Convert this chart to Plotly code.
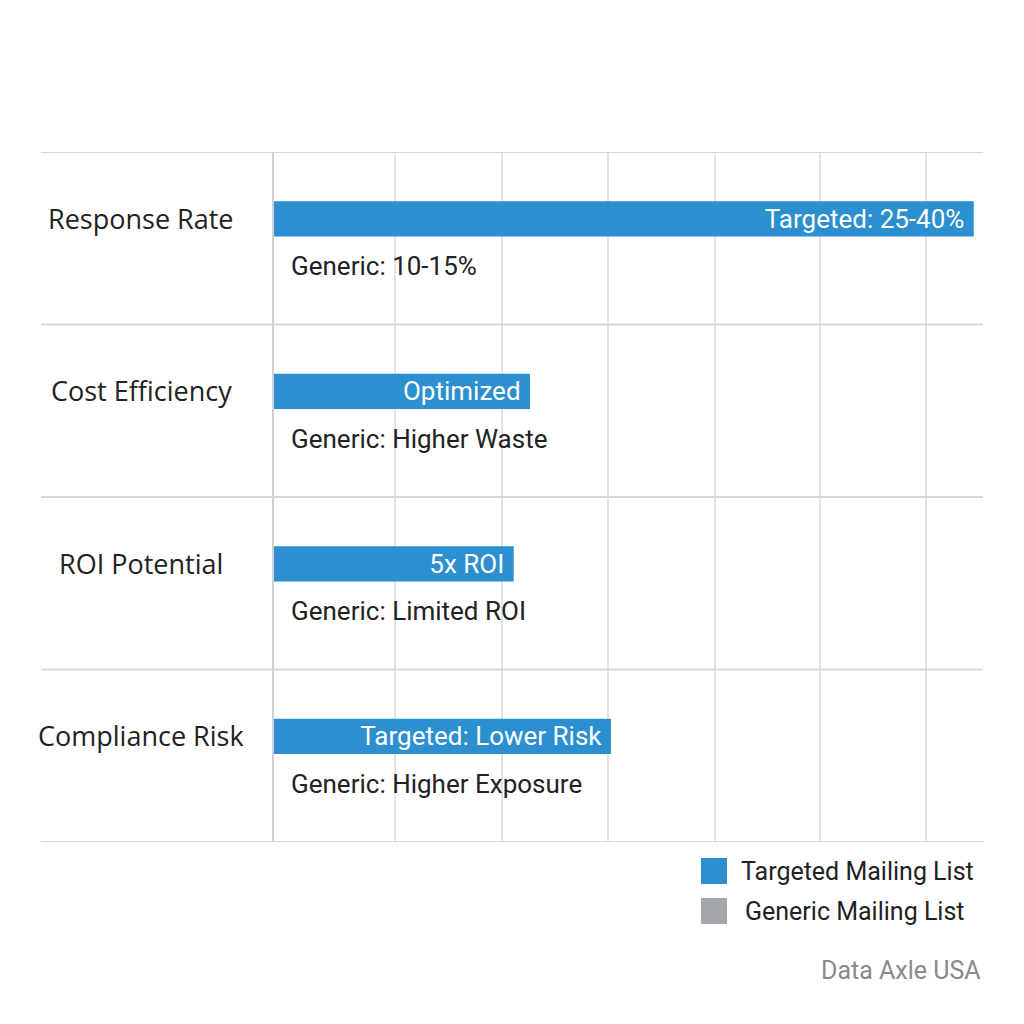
import plotly.graph_objects as go

categories = ["Response Rate", "Cost Efficiency", "ROI Potential", "Compliance Risk"]
targeted_values = [98.7, 36.2, 33.9, 47.6]
targeted_labels = ["Targeted: 25-40%", "Optimized", "5x ROI", "Targeted: Lower Risk"]
generic_values = [0, 0, 0, 0]
generic_labels = ["Generic: 10-15%", "Generic: Higher Waste", "Generic: Limited ROI", "Generic: Higher Exposure"]
gridline_values = [17.2, 32.2, 47.2, 62.2, 77.0, 92.0]
legend_names = ["Targeted Mailing List", "Generic Mailing List"]
source_text = "Data Axle USA"

BLUE = "#2b8fd0"
GRAY = "#a3a7ab"
TEXT = "#222222"

# page has an 8px body offset; screen coords -> figure coords
OFF = 8
PL, PR, PT, PB = 273, 983, 152, 842   # plot area in screen px
L = PL - OFF
T = PT - OFF
PW = PR - PL
PH = PB - PT
R = 1024 - L - PW
B = 1024 - T - PH


def px_to_paper_x(px):
    return (px - PL) / PW


def px_to_paper_y(py):
    return (PB - py) / PH


fig = go.Figure()
fig.add_trace(go.Bar(
    y=categories, x=targeted_values, orientation="h",
    name=legend_names[0], marker=dict(color=BLUE, line=dict(width=0)),
    offset=-0.215, width=0.205,
    text=[t + "\u00a0" for t in targeted_labels], textposition="inside",
    insidetextanchor="end", constraintext="none",
    textfont=dict(family="Roboto", size=26, color="white"),
    hoverinfo="skip", showlegend=False,
))
fig.add_trace(go.Bar(
    y=categories, x=generic_values, orientation="h",
    name=legend_names[1], marker=dict(color=GRAY, line=dict(width=0)),
    offset=0.0, width=0.205, hoverinfo="skip", showlegend=False,
))

annotations = []
for cat, lab in zip(categories, generic_labels):
    annotations.append(dict(
        x=2.2, y=cat, xref="x", yref="y", text=lab, showarrow=False,
        xanchor="left", yanchor="middle", yshift=-28,
        font=dict(family="Roboto", size=26, color=TEXT),
    ))
for cat in categories:
    annotations.append(dict(
        x=px_to_paper_x(141), y=cat, xref="paper", yref="y", text=cat, showarrow=False,
        xanchor="center", yanchor="middle", yshift=20,
        font=dict(family="Open Sans", size=27, color=TEXT),
    ))

shapes = []
# horizontal separators between categories
for b in [-0.5, 0.5, 1.5, 2.5, 3.5]:
    shapes.append(dict(type="line", xref="paper", yref="y",
                       x0=px_to_paper_x(41), x1=1, y0=b, y1=b,
                       line=dict(color="#d6d6d6", width=2)))
# left axis line
shapes.append(dict(type="line", xref="paper", yref="paper", x0=0, x1=0, y0=0, y1=1,
                   line=dict(color="#d0d0d0", width=2)))

# legend (manual, with large square swatches)
legend_items = [(legend_names[0], BLUE, 871, 739), (legend_names[1], GRAY, 911, 743)]
for name, col, cy, tx in legend_items:
    shapes.append(dict(type="rect", xref="paper", yref="paper",
                       x0=px_to_paper_x(701), x1=px_to_paper_x(727),
                       y0=px_to_paper_y(cy + 13), y1=px_to_paper_y(cy - 13),
                       line=dict(width=0), fillcolor=col))
    annotations.append(dict(
        x=px_to_paper_x(tx), y=px_to_paper_y(cy), xref="paper", yref="paper",
        text=name, showarrow=False, xanchor="left", yanchor="middle",
        font=dict(family="Roboto", size=25, color=TEXT),
    ))

annotations.append(dict(
    x=1, y=px_to_paper_y(970), xref="paper", yref="paper", text=source_text,
    showarrow=False, xanchor="right", yanchor="middle",
    font=dict(family="Roboto", size=25, color="#8a8a8a"),
))

fig.update_layout(
    width=1024, height=1024,
    margin=dict(l=L, r=R, t=T, b=B),
    paper_bgcolor="white", plot_bgcolor="white",
    barmode="overlay",
    xaxis=dict(range=[0, 100], tickmode="array", tickvals=gridline_values,
               showticklabels=False,
               showgrid=True, gridcolor="#e3e3e3", gridwidth=1.5,
               zeroline=False, showline=False, ticks="", fixedrange=True),
    yaxis=dict(range=[3.5, -0.5], showticklabels=False, showgrid=False,
               zeroline=False, showline=False, ticks=""),
    shapes=shapes,
    annotations=annotations,
    showlegend=False,
)

fig.write_html("out.html")
